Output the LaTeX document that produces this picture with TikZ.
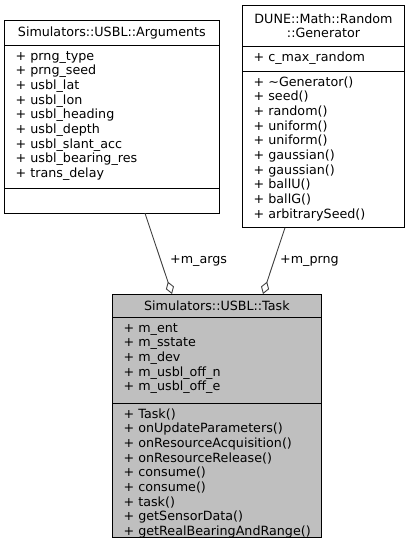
\documentclass[tikz,border=0pt]{standalone}
\usepackage{fontspec}
\setmainfont{DejaVu Sans}
\usetikzlibrary{arrows.meta,calc}
\definecolor{edgegray}{HTML}{404040}
\definecolor{taskfill}{HTML}{BFBFBF}
\begin{document}
\begin{tikzpicture}[x=1pt,y=-1pt,
  box/.style={draw=black,line width=0.9pt,anchor=north west,inner sep=0,outer sep=0,
    align=center,font=\fontsize{12.7}{14}\selectfont},
  txt/.style={anchor=north west,inner sep=0,outer sep=0,align=left,
    font=\fontsize{12.7}{14.65}\selectfont},
  lbl/.style={anchor=west,inner sep=0,font=\fontsize{12.7}{14}\selectfont},
  assoc/.style={draw=edgegray,line width=0.9pt,
    -{Diamond[open,length=13pt,width=8.5pt,line width=0.9pt]}}
]
\useasboundingbox (0,0) rectangle (409,552);
% Arguments
\node[box,minimum width=214.3pt,minimum height=25pt] (argsT) at (4.7,20.7) {Simulators::USBL::Arguments};
\node[box,minimum width=214.3pt,minimum height=143pt] (argsA) at (argsT.south west) {};
\node[box,minimum width=214.3pt,minimum height=24.6pt] (argsM) at (argsA.south west) {};
\node[txt] (argsAT) at ($(argsA.north west)+(11,5.6)$) {+ prng\_type\\+ prng\_seed\\+ usbl\_lat\\+ usbl\_lon\\+ usbl\_heading\\+ usbl\_depth\\+ usbl\_slant\_acc\\+ usbl\_bearing\_res\\+ trans\_delay};
% Generator
\node[box,minimum width=161.6pt,minimum height=41pt] (genT) at (242.7,5) {DUNE::Math::Random\\::Generator};
\node[box,minimum width=161.6pt,minimum height=25pt] (genA) at (genT.south west) {};
\node[box,minimum width=161.6pt,minimum height=156.7pt] (genM) at (genA.south west) {};
\node[txt] (genAT) at ($(genA.north west)+(11,5.6)$) {+ c\_max\_random};
\node[txt] (genMT) at ($(genM.north west)+(11,5.6)$) {+ \textasciitilde Generator()\\+ seed()\\+ random()\\+ uniform()\\+ uniform()\\+ gaussian()\\+ gaussian()\\+ ballU()\\+ ballG()\\+ arbitrarySeed()};
% Task
\node[box,fill=taskfill,minimum width=208.3pt,minimum height=23.7pt] (taskT) at (112.7,294) {Simulators::USBL::Task};
\node[box,fill=taskfill,minimum width=208.3pt,minimum height=85.3pt] (taskA) at (taskT.south west) {};
\node[box,fill=taskfill,minimum width=208.3pt,minimum height=134.3pt] (taskM) at (taskA.south west) {};
\node[txt] (taskAT) at ($(taskA.north west)+(11,5.6)$) {+ m\_ent\\+ m\_sstate\\+ m\_dev\\+ m\_usbl\_off\_n\\+ m\_usbl\_off\_e};
\node[txt] (taskMT) at ($(taskM.north west)+(11,5.6)$) {+ Task()\\+ onUpdateParameters()\\+ onResourceAcquisition()\\+ onResourceRelease()\\+ consume()\\+ consume()\\+ task()\\+ getSensorData()\\+ getRealBearingAndRange()};
% connectors
\coordinate (a0) at ($(argsM.south west)+(140.3,0)$);
\coordinate (a1) at ($(taskT.north west)+(59.3,0)$);
\coordinate (p0) at ($(genM.south west)+(42.3,0)$);
\coordinate (p1) at ($(taskT.north west)+(150.3,0)$);
\draw[assoc] (a0) -- (a1);
\draw[assoc] (p0) -- (p1);
\node[lbl] (largs) at (170,261) {+m\_args};
\node[lbl] (lprng) at (280,261) {+m\_prng};
\end{tikzpicture}
\end{document}
